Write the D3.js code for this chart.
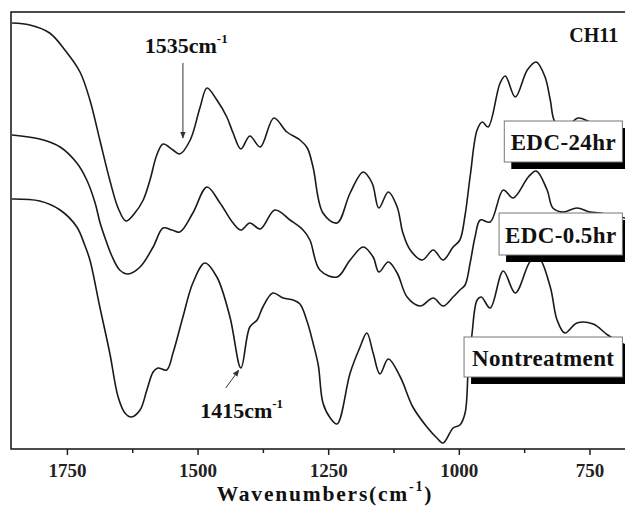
<!DOCTYPE html>
<html>
<head>
<meta charset="utf-8">
<script src="https://cdn.jsdelivr.net/npm/d3@7"></script>
<style>
body { margin: 0; background: #fff; }
</style>
</head>
<body>
<script>
// spectra: wavenumber (cm-1) and relative transmittance
const edc24Wn = [1855, 1821, 1783, 1754, 1725, 1706, 1687, 1668, 1652, 1637, 1620, 1604, 1591, 1578, 1566, 1547, 1534, 1514, 1495, 1482, 1463, 1444, 1432, 1417, 1400, 1380, 1354, 1329, 1304, 1290, 1279, 1260, 1233, 1208, 1183, 1166, 1153, 1135, 1118, 1107, 1093, 1070, 1049, 1030, 1011, 998, 988, 978, 965, 955, 944, 921, 911, 892, 869, 852, 835, 825, 816, 797, 772, 749, 720, 682];
const edc24T = [85.2, 84.8, 83.2, 79.8, 75.4, 69.8, 61.8, 53.8, 48.2, 45.6, 47.2, 49.8, 53.8, 58.8, 61.0, 59.8, 59.0, 61.8, 68.4, 72.2, 69.8, 66.4, 63.2, 60.0, 62.6, 60.4, 66.2, 63.4, 61.8, 60.2, 56.4, 47.2, 45.2, 51.2, 55.4, 53.2, 48.2, 51.4, 48.4, 43.2, 39.8, 37.8, 39.8, 37.8, 40.4, 41.8, 46.8, 54.8, 63.8, 65.4, 64.4, 73.2, 74.6, 70.4, 75.8, 77.4, 74.4, 69.8, 65.4, 64.2, 66.2, 65.4, 64.2, 62.8];

const edc05Wn = [1855, 1802, 1763, 1731, 1712, 1696, 1687, 1677, 1664, 1649, 1633, 1610, 1585, 1566, 1549, 1534, 1509, 1482, 1457, 1432, 1417, 1400, 1380, 1352, 1323, 1298, 1285, 1266, 1233, 1208, 1183, 1164, 1153, 1135, 1118, 1099, 1074, 1049, 1030, 1011, 998, 988, 978, 969, 959, 940, 915, 896, 867, 852, 831, 820, 800, 774, 749, 730, 682];
const edc05T = [62.8, 62.0, 60.4, 57.2, 53.8, 49.2, 45.4, 42.2, 38.6, 35.8, 35.0, 36.4, 40.4, 44.2, 43.8, 43.4, 47.2, 52.4, 49.2, 45.2, 43.8, 45.2, 44.0, 47.8, 45.8, 43.8, 41.8, 35.8, 34.4, 37.8, 40.4, 38.4, 35.4, 37.4, 35.2, 30.4, 28.6, 30.2, 28.6, 30.4, 31.8, 32.8, 37.4, 42.4, 45.8, 45.4, 51.8, 50.2, 54.4, 55.6, 51.8, 48.2, 47.4, 48.2, 47.4, 47.2, 46.2];

const nonWn = [1855, 1802, 1763, 1731, 1716, 1706, 1687, 1668, 1652, 1639, 1627, 1610, 1597, 1585, 1576, 1559, 1547, 1528, 1509, 1486, 1463, 1438, 1417, 1400, 1386, 1375, 1356, 1336, 1317, 1304, 1290, 1279, 1269, 1260, 1246, 1233, 1208, 1189, 1176, 1164, 1151, 1135, 1112, 1088, 1061, 1042, 1030, 1011, 998, 988, 982, 975, 965, 957, 940, 915, 892, 863, 848, 825, 812, 797, 774, 743, 715, 682];
const nonT = [50.0, 49.6, 47.8, 44.4, 40.8, 37.8, 28.4, 19.2, 10.4, 7.2, 6.4, 7.8, 11.8, 15.4, 16.2, 15.8, 19.2, 26.4, 33.2, 37.2, 34.4, 26.4, 16.2, 24.4, 25.8, 28.4, 31.2, 30.2, 29.8, 29.0, 25.4, 21.2, 16.8, 9.2, 6.2, 5.0, 15.2, 20.4, 23.2, 19.2, 15.0, 18.0, 14.4, 8.4, 4.4, 2.2, 1.2, 4.2, 4.8, 7.2, 15.8, 22.8, 29.8, 30.4, 28.2, 35.6, 31.2, 37.6, 38.4, 32.4, 25.8, 23.2, 25.2, 25.0, 22.8, 20.8];

const seriesNames = ["EDC-24hr", "EDC-0.5hr", "Nontreatment"];
const tickMajor = [1750, 1500, 1250, 1000, 750];
const tickMinor = [1625, 1375, 1125, 875];

const width = 625;
const height = 506;
const MARGIN = { top: 12, right: 0, bottom: 57, left: 11 };
const FONT = "'Liberation Serif', 'Times New Roman', serif";

const svg = d3.select("body").append("svg")
	.attr("width", width)
	.attr("height", height);

const x = d3.scaleLinear()
	.domain([1857, 682])
	.range([MARGIN.left, width - MARGIN.right]);

const y = d3.scaleLinear()
	.domain([0, 87.4])
	.range([height - MARGIN.bottom, MARGIN.top]);

const series = [
	{ name: seriesNames[0], pts: d3.zip(edc24Wn, edc24T), box: [913, 65.6, 57.4] },
	{ name: seriesNames[1], pts: d3.zip(edc05Wn, edc05T), box: [923, 47.2, 38.8] },
	{ name: seriesNames[2], pts: d3.zip(nonWn, nonT), box: [990, 22.4, 14.4] }
];

const line = d3.line()
	.x(d => x(d[0]))
	.y(d => y(d[1]))
	.curve(d3.curveCatmullRom.alpha(0.5));

svg.append("g")
	.selectAll("path")
	.data(series)
	.join("path")
	.attr("d", d => line(d.pts))
	.attr("fill", "none")
	.attr("stroke", "#1a1a1a")
	.attr("stroke-width", 1.6)
	.attr("stroke-linejoin", "round");

// frame
svg.append("rect")
	.attr("x", MARGIN.left)
	.attr("y", MARGIN.top)
	.attr("width", width - MARGIN.left + 2)
	.attr("height", height - MARGIN.bottom - MARGIN.top)
	.attr("fill", "none")
	.attr("stroke", "#111")
	.attr("stroke-width", 1.5);

const axisY = height - MARGIN.bottom;

svg.append("g")
	.attr("transform", `translate(0,${axisY})`)
	.call(d3.axisBottom(x).tickValues(tickMajor).tickSize(6).tickPadding(9).tickFormat(d3.format("d")))
	.call(g => g.select(".domain").remove())
	.call(g => g.selectAll(".tick line").attr("stroke", "#222").attr("stroke-width", 1.5))
	.call(g => g.selectAll(".tick text")
		.attr("font-family", FONT)
		.attr("font-weight", "bold")
		.attr("font-size", 19)
		.attr("fill", "#222"));

svg.append("g")
	.attr("transform", `translate(0,${axisY})`)
	.call(d3.axisBottom(x).tickValues(tickMinor).tickSize(4).tickFormat(""))
	.call(g => g.select(".domain").remove())
	.call(g => g.selectAll(".tick line").attr("stroke", "#222").attr("stroke-width", 1.5));

// axis title
const title = svg.append("text")
	.attr("x", 325)
	.attr("y", 501)
	.attr("text-anchor", "middle")
	.attr("font-family", FONT)
	.attr("font-weight", "bold")
	.attr("font-size", 21.5)
	.attr("letter-spacing", 1.8)
	.attr("fill", "#111");
title.append("tspan").text("Wavenumbers(cm");
title.append("tspan").attr("font-size", 14).attr("dy", -10).text("-1");
title.append("tspan").attr("dy", 10).text(")");

// legend boxes with drop shadow
const boxRight = x(687);
const labels = svg.append("g")
	.selectAll("g")
	.data(series)
	.join("g");

labels.append("rect")
	.attr("x", d => x(d.box[0]) + 7)
	.attr("y", d => y(d.box[1]) + 7)
	.attr("width", d => boxRight - x(d.box[0]))
	.attr("height", d => y(d.box[2]) - y(d.box[1]))
	.attr("fill", "#000");

labels.append("rect")
	.attr("x", d => x(d.box[0]))
	.attr("y", d => y(d.box[1]))
	.attr("width", d => boxRight - x(d.box[0]))
	.attr("height", d => y(d.box[2]) - y(d.box[1]))
	.attr("fill", "#fff")
	.attr("stroke", "#777")
	.attr("stroke-width", 1);

labels.append("text")
	.attr("x", d => (x(d.box[0]) + boxRight) / 2)
	.attr("y", d => (y(d.box[1]) + y(d.box[2])) / 2 + 1)
	.attr("text-anchor", "middle")
	.attr("dominant-baseline", "central")
	.attr("font-family", FONT)
	.attr("font-weight", "bold")
	.attr("font-size", 23)
	.attr("letter-spacing", 0.4)
	.attr("fill", "#111")
	.text(d => d.name);

svg.append("text")
	.attr("x", x(695))
	.attr("y", y(81.4))
	.attr("text-anchor", "end")
	.attr("font-family", FONT)
	.attr("font-weight", "bold")
	.attr("font-size", 20)
	.attr("fill", "#111")
	.text("CH11");

// peak annotations
svg.append("defs").append("marker")
	.attr("id", "arrow")
	.attr("viewBox", "0 0 10 10")
	.attr("refX", 9)
	.attr("refY", 5)
	.attr("markerWidth", 7)
	.attr("markerHeight", 7)
	.attr("orient", "auto")
	.append("path")
	.attr("d", "M0,1 L10,5 L0,9 Z")
	.attr("fill", "#333");

const notes = [
	{ label: "1535cm", tx: 1601, ty: 79.2, from: [1528, 77.2], to: [1528, 62.2] },
	{ label: "1415cm", tx: 1495, ty: 6.2, from: [1446, 12.2], to: [1421, 15.8] }
];

notes.forEach(n => {
	const t = svg.append("text")
		.attr("x", x(n.tx))
		.attr("y", y(n.ty))
		.attr("font-family", FONT)
		.attr("font-weight", "bold")
		.attr("font-size", 22)
		.attr("fill", "#111");
	t.append("tspan").text(n.label);
	t.append("tspan").attr("font-size", 13).attr("dy", -10).text("-1");

	svg.append("line")
		.attr("x1", x(n.from[0]))
		.attr("y1", y(n.from[1]))
		.attr("x2", x(n.to[0]))
		.attr("y2", y(n.to[1]))
		.attr("stroke", "#333")
		.attr("stroke-width", 1)
		.attr("marker-end", "url(#arrow)");
});
</script>
</body>
</html>
